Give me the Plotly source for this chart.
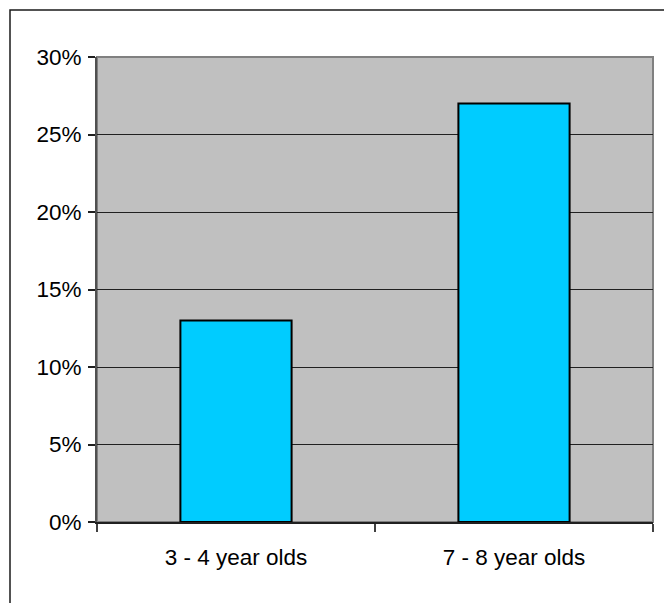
import plotly.graph_objects as go

# Share of children by age group
age_groups = ["3 - 4 year olds", "7 - 8 year olds"]
shares = [0.13, 0.27]

y_ticks = [0, 0.05, 0.10, 0.15, 0.20, 0.25, 0.30]

W, H = 664, 603
L, R, T, B = 97, 11, 57, 81
plot_w = W - L - R
plot_h = H - T - B

fig = go.Figure(
    go.Bar(
        x=age_groups,
        y=shares,
        width=0.4,
        marker=dict(color="#00CCFF", line=dict(color="#000000", width=2)),
        hoverinfo="x+y",
    )
)

font = dict(family="Liberation Sans, Arial, sans-serif", size=22.5, color="#000000")

fig.update_layout(
    width=W,
    height=H,
    margin=dict(l=L, r=R, t=T, b=B, pad=0),
    paper_bgcolor="#FFFFFF",
    plot_bgcolor="#C0C0C0",
    font=font,
    showlegend=False,
    bargap=0.6,
    xaxis=dict(
        type="category",
        tickson="boundaries",
        ticks="outside",
        ticklen=8,
        tickwidth=2,
        tickcolor="#404040",
        showgrid=False,
        showline=True,
        linecolor="#202020",
        linewidth=2,
        tickfont=font,
        ticklabelstandoff=14,
        range=[-0.5, 1.5],
        fixedrange=True,
    ),
    yaxis=dict(
        range=[0, 0.30],
        tickvals=y_ticks,
        tickformat=".0%",
        ticks="outside",
        ticklen=7,
        tickwidth=1.5,
        tickcolor="#202020",
        showgrid=True,
        gridcolor="#202020",
        gridwidth=1,
        zeroline=False,
        showline=True,
        linecolor="#505050",
        linewidth=2,
        tickfont=font,
        ticklabelstandoff=2,
        fixedrange=True,
    ),
    shapes=[
        # plot area frame (top and right edges)
        dict(
            type="rect", xref="paper", yref="paper",
            x0=0, x1=1, y0=0, y1=1,
            line=dict(color="#808080", width=2),
            fillcolor="rgba(0,0,0,0)", layer="below",
        ),
        # outer chart border
        dict(
            type="rect", xref="paper", yref="paper",
            x0=(10 - L) / plot_w, x1=(W + 6 - L) / plot_w,
            y0=-(H + 6 - (T + plot_h)) / plot_h, y1=(T + plot_h - 10) / plot_h,
            line=dict(color="#1A1A1A", width=1.5),
            fillcolor="rgba(0,0,0,0)", layer="above",
        ),
    ],
)

fig.write_html("out.html")
